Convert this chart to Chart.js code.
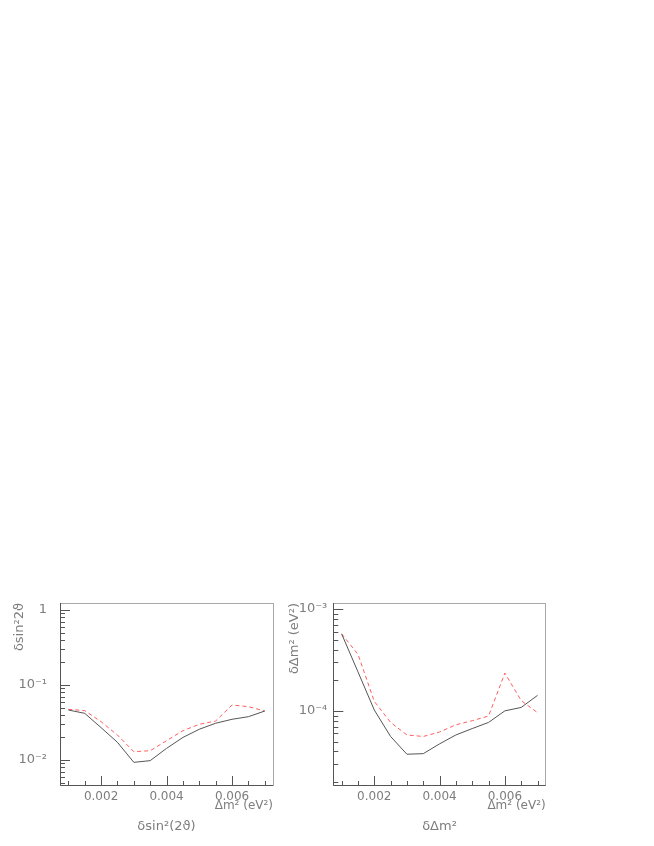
<!DOCTYPE html>
<html>
<head>
<meta charset="utf-8">
<script src="https://cdn.jsdelivr.net/npm/chart.js@4.4.1/dist/chart.umd.min.js"></script>
<style>
  html, body { margin: 0; padding: 0; background: #fff; }
  body { width: 654px; height: 846px; position: relative; overflow: hidden; }
  canvas { position: absolute; top: 0; }
  #left { left: 0; }
  #right { left: 280px; }
</style>
</head>
<body>
<canvas id="left" width="300" height="846"></canvas>
<canvas id="right" width="374" height="846"></canvas>
<script>
// delta m^2 grid (eV^2)
var dm2 = [0.001, 0.0015, 0.002, 0.0025, 0.003, 0.0035, 0.004, 0.0045, 0.005, 0.0055, 0.006, 0.0065, 0.007];

// left panel: delta sin^2(2theta)
var sinSolid  = [0.0464, 0.0419, 0.0270, 0.0172, 0.0093, 0.0098, 0.0143, 0.0200, 0.0257, 0.0309, 0.0349, 0.0378, 0.0450];
var sinDashed = [0.0474, 0.0455, 0.0324, 0.0215, 0.0129, 0.0133, 0.0181, 0.0246, 0.0299, 0.0331, 0.0541, 0.0514, 0.0450];

// right panel: delta (delta m^2)
var dmSolid  = [5.7e-4, 2.42e-4, 1.02e-4, 5.6e-5, 3.75e-5, 3.8e-5, 4.74e-5, 5.8e-5, 6.7e-5, 7.7e-5, 1.0e-4, 1.08e-4, 1.42e-4];
var dmDashed = [5.7e-4, 3.6e-4, 1.24e-4, 7.7e-5, 5.8e-5, 5.6e-5, 6.2e-5, 7.3e-5, 8.0e-5, 8.9e-5, 2.35e-4, 1.26e-4, 9.6e-5];

// tick values and labels
var xTicks      = [0.001, 0.0015, 0.002, 0.0025, 0.003, 0.0035, 0.004, 0.0045, 0.005, 0.0055, 0.006, 0.0065, 0.007];
var xTickLabels = ['', '', '0.002', '', '', '', '0.004', '', '', '', '0.006', '', ''];

var sinTicks = [0.005, 0.006, 0.007, 0.008, 0.009, 0.01, 0.02, 0.03, 0.04, 0.05, 0.06, 0.07, 0.08, 0.09,
                0.1, 0.2, 0.3, 0.4, 0.5, 0.6, 0.7, 0.8, 0.9, 1];
var sinTickLabels = ['', '', '', '', '', '10\u207B\u00B2', '', '', '', '', '', '', '', '',
                     '10\u207B\u00B9', '', '', '', '', '', '', '', '', '1'];

var dmTicks = [2e-5, 3e-5, 4e-5, 5e-5, 6e-5, 7e-5, 8e-5, 9e-5, 1e-4,
               2e-4, 3e-4, 4e-4, 5e-4, 6e-4, 7e-4, 8e-4, 9e-4, 1e-3];
var dmTickLabels = ['', '', '', '', '', '', '', '', '10\u207B\u2074',
                    '', '', '', '', '', '', '', '', '10\u207B\u00B3'];

var grey = '#7d7d7d';
var fontFam = '"DejaVu Sans", "Liberation Sans", sans-serif';

function pts(ys) {
    var out = [];
    for (var i = 0; i < dm2.length; i++) {
        out.push({x: dm2[i], y: ys[i]});
    }
    return out;
}

// frame + inward tick marks, ROOT style
var frameTicks = {
    id: 'frameTicks',
    afterDraw: function(chart) {
        var ctx = chart.ctx, a = chart.chartArea;
        ctx.save();
        ctx.strokeStyle = '#a8a8a8';
        ctx.lineWidth = 1;
        ctx.strokeRect(Math.round(a.left) + 0.5, Math.round(a.top) + 0.5,
                       Math.round(a.right - a.left), Math.round(a.bottom - a.top));
        ctx.strokeStyle = '#555';
        ctx.beginPath();
        var xs = chart.scales.x, ys = chart.scales.y;
        xs.ticks.forEach(function(t, i) {
            var px = Math.round(xs.getPixelForValue(t.value)) + 0.5;
            var len = xTickLabels[i] ? 9 : 4;
            ctx.moveTo(px, a.bottom);
            ctx.lineTo(px, a.bottom - len);
        });
        var labs = chart.options.yLabels;
        ys.ticks.forEach(function(t, i) {
            var py = Math.round(ys.getPixelForValue(t.value)) + 0.5;
            var len = labs[i] ? 10 : 5;
            ctx.moveTo(a.left, py);
            ctx.lineTo(a.left + len, py);
        });
        ctx.stroke();
        ctx.beginPath();
        ctx.moveTo(Math.round(a.left) + 0.5, a.top);
        ctx.lineTo(Math.round(a.left) + 0.5, a.bottom + 0.5);
        ctx.lineTo(a.right, Math.round(a.bottom) + 0.5);
        ctx.stroke();
        ctx.restore();
    }
};

function makeChart(id, solid, dashed, cfg) {
    var ctx = document.getElementById(id).getContext('2d');
    return new Chart(ctx, {
        type: 'line',
        data: {
            datasets: [{
                data: pts(solid),
                borderColor: '#555',
                borderWidth: 1,
                pointRadius: 0,
                tension: 0,
                fill: false
            }, {
                data: pts(dashed),
                borderColor: '#ff5e5e',
                borderWidth: 1,
                borderDash: [4, 3],
                pointRadius: 0,
                tension: 0,
                fill: false
            }]
        },
        options: {
            responsive: false,
            animation: false,
            devicePixelRatio: 1,
            yLabels: cfg.yLabels,
            layout: { padding: { top: 603, left: 0, right: cfg.padRight, bottom: 11.4 } },
            plugins: {
                legend: { display: false },
                tooltip: { enabled: false },
                title: {
                    display: true,
                    text: cfg.title,
                    position: 'bottom',
                    fullSize: false,
                    color: grey,
                    font: { family: fontFam, size: 13, weight: 'normal' },
                    padding: { top: 4, bottom: 0 }
                }
            },
            scales: {
                x: {
                    type: 'linear',
                    min: 0.000745,
                    max: 0.00725,
                    grid: { display: false, drawTicks: false },
                    border: { display: false },
                    afterBuildTicks: function(s) {
                        s.ticks = xTicks.map(function(v) { return {value: v}; });
                    },
                    afterFit: function(s) { s.height = 30; },
                    ticks: {
                        color: grey,
                        padding: 5,
                        maxRotation: 0,
                        autoSkip: false,
                        font: { family: fontFam, size: 12 },
                        callback: function(v, i) { return xTickLabels[i]; }
                    },
                    title: {
                        display: true,
                        text: 'Δm² (eV²)',
                        align: 'end',
                        color: grey,
                        font: { family: fontFam, size: 12 },
                        padding: { top: 0, bottom: 2 }
                    }
                },
                y: {
                    type: 'logarithmic',
                    min: cfg.yMin,
                    max: cfg.yMax,
                    grid: { display: false, drawTicks: false },
                    border: { display: false },
                    afterBuildTicks: function(s) {
                        s.ticks = cfg.yTicks.map(function(v) { return {value: v}; });
                    },
                    afterFit: function(s) { s.width = cfg.yWidth; },
                    ticks: {
                        color: grey,
                        padding: cfg.tickPad,
                        autoSkip: false,
                        font: { family: fontFam, size: 13 },
                        callback: function(v, i) { return cfg.yLabels[i]; }
                    },
                    title: {
                        display: true,
                        text: cfg.yTitle,
                        align: 'end',
                        color: grey,
                        font: { family: fontFam, size: 13 },
                        padding: { top: cfg.titlePad, bottom: 0 }
                    }
                }
            }
        },
        plugins: [frameTicks]
    });
}

makeChart('left', sinSolid, sinDashed, {
    yTicks: sinTicks, yLabels: sinTickLabels,
    yMin: 0.00464, yMax: 1.24,
    yWidth: 60, padRight: 27, tickPad: 13, titlePad: 12.2,
    yTitle: 'δsin²2ϑ', title: 'δsin²(2ϑ)'
});

makeChart('right', dmSolid, dmDashed, {
    yTicks: dmTicks, yLabels: dmTickLabels,
    yMin: 1.87e-5, yMax: 1.146e-3,
    yWidth: 53.3, padRight: 108.3, tickPad: 6, titlePad: 7.2,
    yTitle: 'δΔm² (eV²)', title: 'δΔm²'
});
</script>
</body>
</html>
